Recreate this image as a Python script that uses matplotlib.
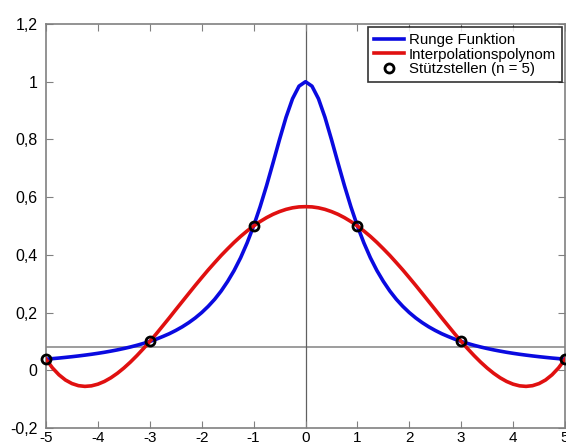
import numpy as np
import matplotlib.pyplot as plt
from matplotlib.ticker import FuncFormatter

plt.rcParams['font.family'] = ['Liberation Sans', 'DejaVu Sans']
plt.rcParams['axes.unicode_minus'] = False

# values (curves are symmetric around x = 0)
x_half = [0, 0.125, 0.25, 0.375, 0.5, 0.625, 0.75, 0.875, 1, 1.125, 1.25, 1.375, 1.5,
          1.625, 1.75, 1.875, 2, 2.125, 2.25, 2.375, 2.5, 2.625, 2.75, 2.875, 3,
          3.125, 3.25, 3.375, 3.5, 3.625, 3.75, 3.875, 4, 4.125, 4.25, 4.375, 4.5,
          4.625, 4.75, 4.875, 5]
runge_half = [1.0, 0.9846, 0.941, 0.8767, 0.8, 0.7191, 0.64, 0.5664, 0.5, 0.4414, 0.39,
              0.3459, 0.308, 0.2747, 0.246, 0.2215, 0.2, 0.1813, 0.165, 0.1506, 0.138,
              0.1267, 0.117, 0.1079, 0.1, 0.0929, 0.0865, 0.0807, 0.0755, 0.0707, 0.0664,
              0.0624, 0.0588, 0.0555, 0.0525, 0.0497, 0.0471, 0.0447, 0.0424, 0.0404, 0.0385]
poly_half = [0.567, 0.5662, 0.563, 0.5576, 0.55, 0.5406, 0.529, 0.5154, 0.5, 0.4828, 0.464,
             0.4433, 0.421, 0.3979, 0.373, 0.3477, 0.321, 0.2939, 0.266, 0.238, 0.21,
             0.1816, 0.154, 0.1264, 0.1, 0.0746, 0.0506, 0.0282, 0.0078, -0.0104, -0.026,
             -0.0387, -0.0481, -0.0539, -0.0558, -0.0533, -0.046, -0.0337, -0.0157, 0.0081, 0.0385]

x = [-v for v in x_half[::-1]] + x_half[1:]
runge = runge_half[::-1] + runge_half[1:]
poly = poly_half[::-1] + poly_half[1:]

nodes_x = [-5, -3, -1, 1, 3, 5]
nodes_y = [0.0385, 0.1, 0.5, 0.5, 0.1, 0.0385]
hline_y = 0.08

fig = plt.figure(figsize=(5.66, 4.48), dpi=100)
ax = fig.add_axes([46/566, 20/448, 519/566, 404/448])

ax.axhline(hline_y, color='#8c8c8c', lw=1.2, zorder=1)
ax.axvline(0, color='#606060', lw=0.9, zorder=1)

ax.plot(x, runge, color='#0a0ae0', lw=2.6, label='Runge Funktion', zorder=3,
        solid_joinstyle='round')
ax.plot(x, poly, color='#e01010', lw=2.6, label='Interpolationspolynom', zorder=3,
        solid_joinstyle='round')
ax.plot(nodes_x, nodes_y, 'o', ms=6.5, mfc='none', mec='black', mew=2,
        label='Stützstellen (n = 5)', zorder=4, clip_on=False)

ax.set_xlim(-5, 5)
ax.set_ylim(-0.2, 1.2)
ax.set_xticks(range(-5, 6))
ax.set_yticks(np.arange(-0.2, 1.21, 0.2))
ax.yaxis.set_major_formatter(FuncFormatter(lambda v, p: ('%g' % round(v, 1)).replace('.', ',')))
ax.tick_params(direction='in', length=5, color='#808080', labelsize=11.5,
               top=True, right=True, pad=6)
ax.tick_params(axis='x', labelsize=11, pad=2.5)
for s in ax.spines.values():
    s.set_color('#808080')
    s.set_linewidth(1.2)

leg = ax.legend(loc='upper right', fontsize=10.8, frameon=True, fancybox=False,
                edgecolor='black', handlelength=2.0, handletextpad=0.3,
                labelspacing=0.05, borderpad=0.4, borderaxespad=0.2)
leg.get_frame().set_linewidth(1.2)

fig.savefig('out.png', dpi=100)
